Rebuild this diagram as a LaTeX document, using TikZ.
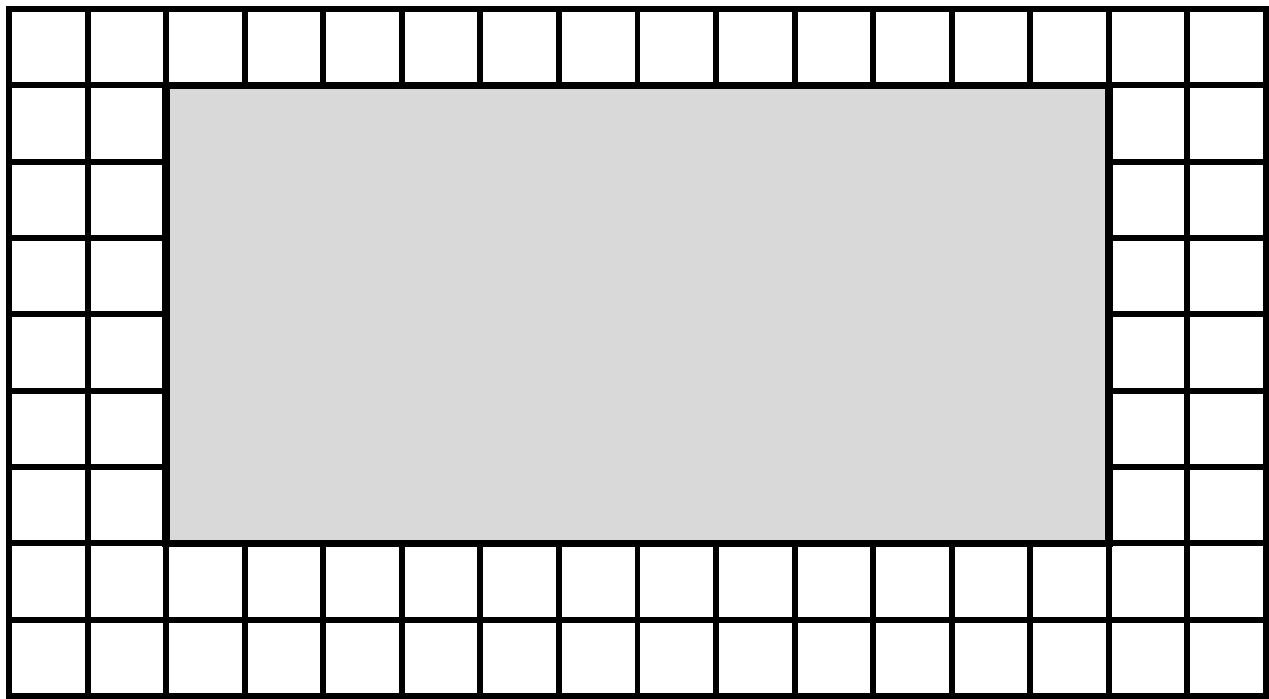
\documentclass[tikz,border=0pt]{standalone}
\definecolor{hole}{RGB}{217,217,217}
\begin{document}
\begin{tikzpicture}[x=1.5712cm, y=1.5266cm, line join=miter, line cap=rect]
			\tikzset{gridline/.style={line width=3.4pt}, frame/.style={line width=4.3pt, fill=hole}}
			\useasboundingbox (-0.1146,-0.0393) rectangle (16.0382,9.118);
			\foreach \x in {0,...,16}
			\draw[gridline] (\x,0)--(\x,9);
			\foreach \y in {0,...,9}
			\draw[gridline] (0,\y)--(16,\y);
			\filldraw[frame] (2,2) rectangle (14,8);
		\end{tikzpicture}
\end{document}
